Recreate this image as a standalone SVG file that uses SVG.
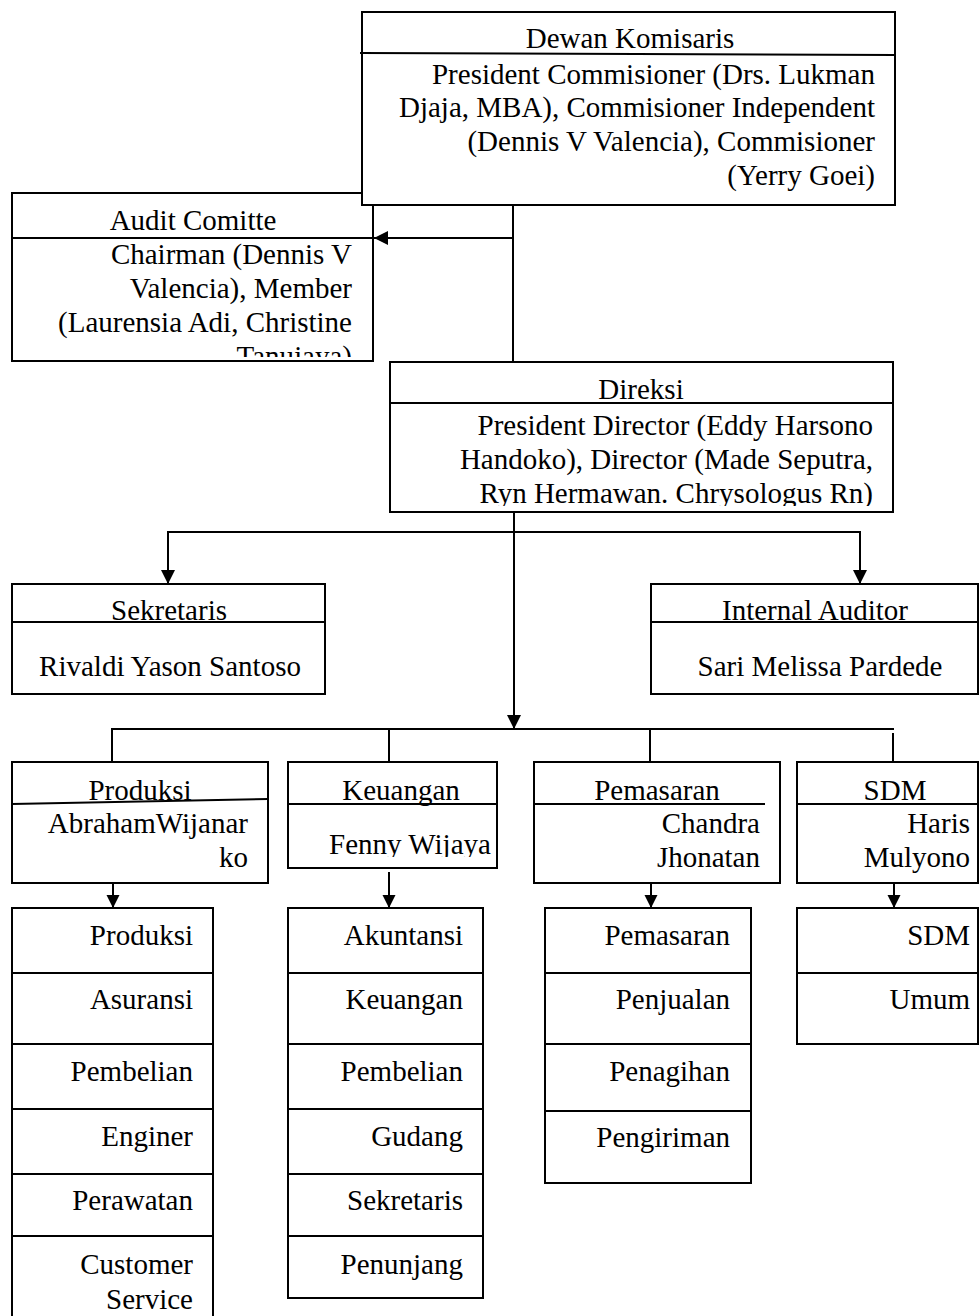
<svg xmlns="http://www.w3.org/2000/svg" width="979" height="1316" viewBox="0 0 979 1316">
<style>
rect, .ln { fill: #fff; stroke: #000; stroke-width: 2; }
.ln { fill: none; }
.c { stroke: #000; stroke-width: 2; fill: none; }
text { font-family: "Liberation Serif", "Times New Roman", serif; font-size: 29px; fill: #000; }
.m { text-anchor: middle; }
.r { text-anchor: end; }
</style>
<defs>
<marker id="ah" viewBox="0 0 10 10" refX="10" refY="5" markerWidth="15" markerHeight="14" markerUnits="userSpaceOnUse" orient="auto"><path d="M0,0 L10,5 L0,10 z" fill="#000"/></marker>
<marker id="ahs" viewBox="0 0 10 10" refX="10" refY="5" markerWidth="13" markerHeight="14" markerUnits="userSpaceOnUse" orient="auto"><path d="M0,0 L10,5 L0,10 z" fill="#000"/></marker>
<clipPath id="clipAudit"><rect x="12" y="240" width="361" height="117"/></clipPath>
<clipPath id="clipDir"><rect x="390" y="404" width="503" height="102"/></clipPath>
<clipPath id="clipKeu"><rect x="288" y="805" width="209" height="52"/></clipPath>
</defs>

<g id="audit-comitte">
<rect x="12" y="193" width="361" height="168"/>
<line class="ln" x1="12" y1="238" x2="373" y2="238"/>
<text class="m" x="193" y="230">Audit Comitte</text>
<g clip-path="url(#clipAudit)">
<text class="r" x="352" y="264">Chairman (Dennis V</text>
<text class="r" x="352" y="298">Valencia), Member</text>
<text class="r" x="352" y="332">(Laurensia Adi, Christine</text>
<text class="r" x="352" y="366">Tanujaya)</text>
</g>
</g>

<g id="dewan-komisaris">
<rect x="362" y="12" width="533" height="193"/>
<line class="ln" x1="360" y1="53" x2="895" y2="55"/>
<text class="m" x="630" y="48">Dewan Komisaris</text>
<text class="r" x="875" y="84">President Commisioner (Drs. Lukman</text>
<text class="r" x="875" y="117">Djaja, MBA), Commisioner Independent</text>
<text class="r" x="875" y="151">(Dennis V Valencia), Commisioner</text>
<text class="r" x="875" y="185">(Yerry Goei)</text>
</g>

<g id="direksi">
<rect x="390" y="362" width="503" height="150"/>
<line class="ln" x1="390" y1="403" x2="893" y2="403"/>
<text class="m" x="641" y="399">Direksi</text>
<g clip-path="url(#clipDir)">
<text class="r" x="873" y="435">President Director (Eddy Harsono</text>
<text class="r" x="873" y="469">Handoko), Director (Made Seputra,</text>
<text class="r" x="873" y="503">Ryn Hermawan. Chrysologus Rn)</text>
</g>
</g>

<g id="sekretaris">
<rect x="12" y="584" width="313" height="110"/>
<line class="ln" x1="12" y1="622" x2="325" y2="622"/>
<text class="m" x="169" y="620">Sekretaris</text>
<text class="m" x="170" y="676">Rivaldi Yason Santoso</text>
</g>

<g id="internal-auditor">
<rect x="651" y="584" width="327" height="110"/>
<line class="ln" x1="651" y1="622" x2="978" y2="622"/>
<text class="m" x="815" y="620">Internal Auditor</text>
<text class="m" x="820" y="676">Sari Melissa Pardede</text>
</g>

<g id="produksi">
<rect x="12" y="762" width="256" height="121"/>
<text class="m" x="140" y="800">Produksi</text>
<line class="ln" x1="12" y1="804" x2="268" y2="799"/>
<text class="r" x="248" y="833">AbrahamWijanar</text>
<text class="r" x="248" y="867">ko</text>
</g>

<g id="keuangan">
<rect x="288" y="762" width="209" height="106"/>
<line class="ln" x1="288" y1="804" x2="497" y2="804"/>
<text class="m" x="401" y="800">Keuangan</text>
<g clip-path="url(#clipKeu)">
<text class="m" x="410" y="854">Fenny Wijaya</text>
</g>
</g>

<g id="pemasaran">
<rect x="534" y="762" width="246" height="121"/>
<line class="ln" x1="534" y1="804" x2="765" y2="804"/>
<text class="m" x="657" y="800">Pemasaran</text>
<text class="r" x="760" y="833">Chandra</text>
<text class="r" x="760" y="867">Jhonatan</text>
</g>

<g id="sdm">
<rect x="797" y="762" width="181" height="121"/>
<line class="ln" x1="797" y1="804" x2="978" y2="804"/>
<text class="m" x="895" y="800">SDM</text>
<text class="r" x="970" y="833">Haris</text>
<text class="r" x="970" y="867">Mulyono</text>
</g>

<g id="list-produksi">
<rect x="12" y="908" width="201" height="65"/>
<rect x="12" y="973" width="201" height="71"/>
<rect x="12" y="1044" width="201" height="65"/>
<rect x="12" y="1109" width="201" height="65"/>
<rect x="12" y="1174" width="201" height="62"/>
<rect x="12" y="1236" width="201" height="100"/>
<text class="r" x="193" y="945">Produksi</text>
<text class="r" x="193" y="1009">Asuransi</text>
<text class="r" x="193" y="1081">Pembelian</text>
<text class="r" x="193" y="1146">Enginer</text>
<text class="r" x="193" y="1210">Perawatan</text>
<text class="r" x="193" y="1274">Customer</text>
<text class="r" x="193" y="1309">Service</text>
</g>

<g id="list-keuangan">
<rect x="288" y="908" width="195" height="65"/>
<rect x="288" y="973" width="195" height="71"/>
<rect x="288" y="1044" width="195" height="65"/>
<rect x="288" y="1109" width="195" height="65"/>
<rect x="288" y="1174" width="195" height="62"/>
<rect x="288" y="1236" width="195" height="62"/>
<text class="r" x="463" y="945">Akuntansi</text>
<text class="r" x="463" y="1009">Keuangan</text>
<text class="r" x="463" y="1081">Pembelian</text>
<text class="r" x="463" y="1146">Gudang</text>
<text class="r" x="463" y="1210">Sekretaris</text>
<text class="r" x="463" y="1274">Penunjang</text>
</g>

<g id="list-pemasaran">
<rect x="545" y="908" width="206" height="65"/>
<rect x="545" y="973" width="206" height="71"/>
<rect x="545" y="1044" width="206" height="67"/>
<rect x="545" y="1111" width="206" height="72"/>
<text class="r" x="730" y="945">Pemasaran</text>
<text class="r" x="730" y="1009">Penjualan</text>
<text class="r" x="730" y="1081">Penagihan</text>
<text class="r" x="730" y="1147">Pengiriman</text>
</g>

<g id="list-sdm">
<rect x="797" y="908" width="181" height="65"/>
<rect x="797" y="973" width="181" height="71"/>
<text class="r" x="970" y="945">SDM</text>
<text class="r" x="970" y="1009">Umum</text>
</g>

<g id="connectors">
<line class="c" x1="513" y1="205" x2="513" y2="362"/>
<line class="c" x1="513" y1="238" x2="374" y2="238" marker-end="url(#ah)"/>
<line class="c" x1="514" y1="512" x2="514" y2="729" marker-end="url(#ah)"/>
<polyline class="c" points="168,583 168,532 860,532 860,583"/>
<line class="c" x1="168" y1="560" x2="168" y2="584" marker-end="url(#ah)"/>
<line class="c" x1="860" y1="560" x2="860" y2="584" marker-end="url(#ah)"/>
<polyline class="c" points="112,762 112,729 894,729"/>
<line class="c" x1="389" y1="729" x2="389" y2="762"/>
<line class="c" x1="650" y1="729" x2="650" y2="762"/>
<line class="c" x1="893" y1="733" x2="893" y2="762"/>
<line class="c" x1="113" y1="883" x2="113" y2="908" marker-end="url(#ahs)"/>
<line class="c" x1="389" y1="872" x2="389" y2="908" marker-end="url(#ahs)"/>
<line class="c" x1="651" y1="883" x2="651" y2="908" marker-end="url(#ahs)"/>
<line class="c" x1="894" y1="883" x2="894" y2="908" marker-end="url(#ahs)"/>
</g>
</svg>
